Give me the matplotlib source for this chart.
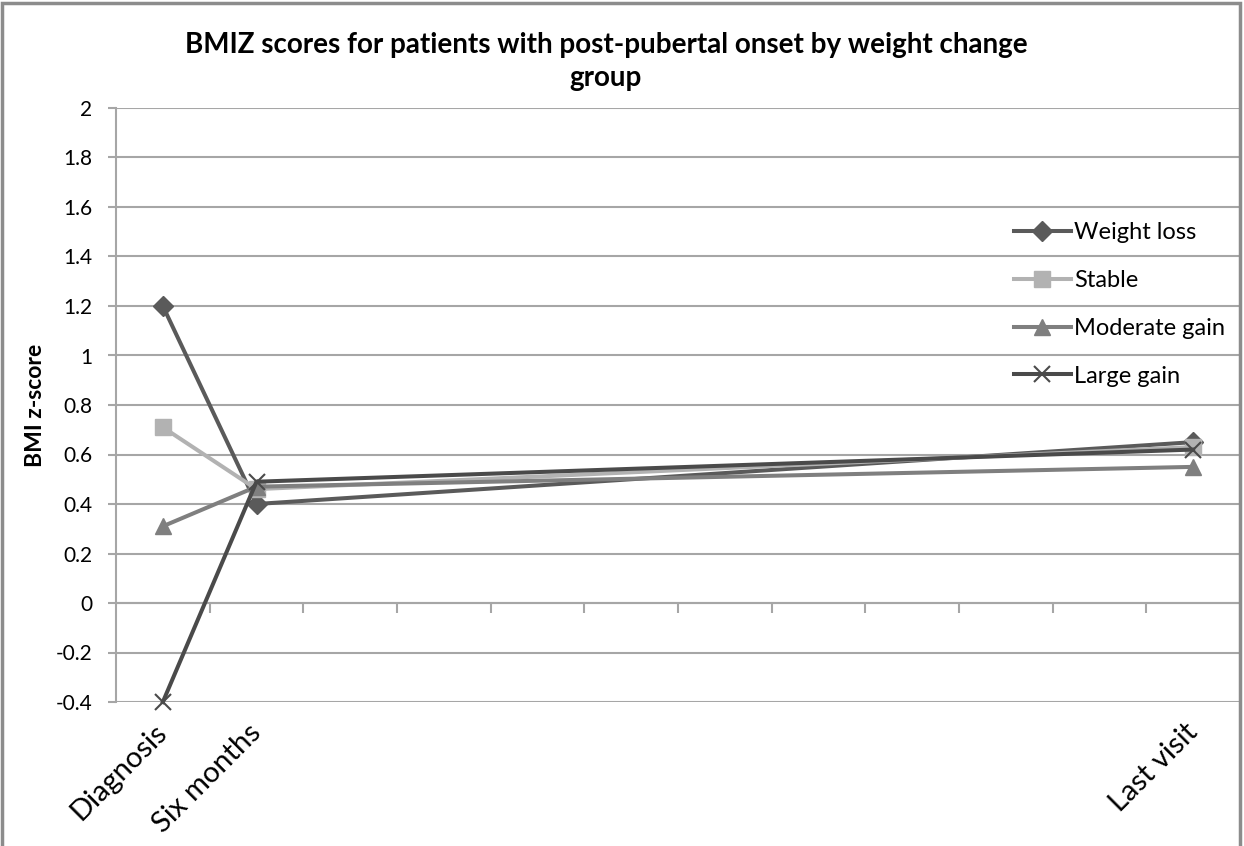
import numpy as np
import matplotlib
matplotlib.use("Agg")
import matplotlib.pyplot as plt
from matplotlib.patches import Rectangle

plt.rcParams['font.family'] = ['Lato', 'DejaVu Sans']

categories = ["Diagnosis", "Six months", "", "", "", "", "", "", "", "", "", "Last visit"]
point_idx = [0, 1, 11]
series_names = ["Weight loss", "Stable", "Moderate gain", "Large gain"]
weight_loss = [1.20, 0.40, 0.65]
stable = [0.71, 0.46, 0.63]
moderate_gain = [0.31, 0.47, 0.55]
large_gain = [-0.40, 0.49, 0.62]
y_ticks = [-0.4, -0.2, 0, 0.2, 0.4, 0.6, 0.8, 1, 1.2, 1.4, 1.6, 1.8, 2]
y_tick_labels = ["-0.4", "-0.2", "0", "0.2", "0.4", "0.6", "0.8", "1", "1.2", "1.4", "1.6", "1.8", "2"]

W, H = 1244, 846
fig = plt.figure(figsize=(W/100, H/100), dpi=100)
ax = fig.add_axes([116/W, (H-702)/H, (1240-116)/W, (702-108)/H])

styles = [
    dict(color="#5a5a5a", marker="D", ms=10),
    dict(color="#b2b2b2", marker="s", ms=11),
    dict(color="#7f7f7f", marker="^", ms=11),
    dict(color="#4a4a4a", marker="x", ms=12, mew=1.5),
]
data = [weight_loss, stable, moderate_gain, large_gain]
for name, vals, st in zip(series_names, data, styles):
    ax.plot(point_idx, vals, lw=2.9, label=name, zorder=3, clip_on=False, **st)

ax.set_xlim(-0.5, len(categories) - 0.5)
ax.set_ylim(-0.4, 2)
ax.set_yticks(y_ticks)
ax.set_yticklabels(y_tick_labels)
ax.yaxis.grid(True, color="#a6a6a6", lw=1.5)
ax.set_axisbelow(True)

ax.set_xticks(range(len(categories)))
ax.set_xticklabels(categories, rotation=45, ha="right", va="center", rotation_mode="anchor", fontsize=21)
ax.tick_params(axis="x", length=0, pad=19)
ax.tick_params(axis="y", length=6, color="#a6a6a6", width=1.5, labelsize=15, pad=11)

for s in ["top", "right", "bottom"]:
    ax.spines[s].set_visible(False)
ax.spines["left"].set_color("#a6a6a6")
ax.spines["left"].set_linewidth(1.5)

# category axis line at y = 0 with tick marks between categories
zero_pos = (0 - (-0.4)) / 2.4
sec = ax.secondary_xaxis(zero_pos)
sec.set_xticks(np.arange(0.5, len(categories) - 1, 1.0))
sec.set_xticklabels([])
sec.tick_params(axis="x", direction="out", length=7, width=1.5, color="#a6a6a6")
for s in sec.spines.values():
    s.set_visible(False)
ax.axhline(0, color="#a6a6a6", lw=1.5, zorder=1)

ax.set_ylabel("BMI z-score", fontsize=16.5, fontweight="bold", labelpad=7)

fig.text(606/W, 1 - 45/H, "BMIZ scores for patients with post-pubertal onset by weight change",
         ha="center", va="center", fontsize=20, fontweight="bold")
fig.text(606/W, 1 - 78/H, "group", ha="center", va="center", fontsize=20, fontweight="bold")

leg = ax.legend(loc="upper left", bbox_to_anchor=(1014/W, 1 - 222/H), bbox_transform=fig.transFigure,
                frameon=False, fontsize=17, handlelength=2.4, handletextpad=0.15, labelspacing=1.14,
                borderaxespad=0, borderpad=0)

fig.add_artist(Rectangle((2/W, -0.05), (1240-2)/W, 1.05 - 3/H, transform=fig.transFigure,
                         fill=False, edgecolor="#8c8c8c", lw=2.5))

fig.savefig("out.png", dpi=100)
